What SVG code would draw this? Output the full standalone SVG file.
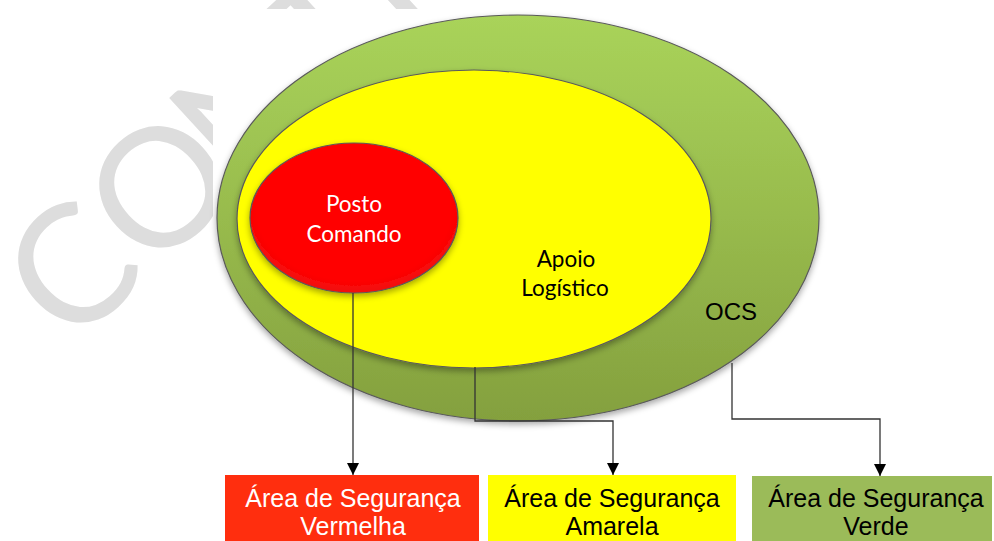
<svg xmlns="http://www.w3.org/2000/svg" width="994" height="541" viewBox="0 0 994 541">
  <defs>
    <linearGradient id="gGreen" x1="0" y1="0" x2="0" y2="1">
      <stop offset="0" stop-color="#a9d35a"/>
      <stop offset="0.5" stop-color="#98bb4d"/>
      <stop offset="1" stop-color="#84a03e"/>
    </linearGradient>
    <radialGradient id="gRed" cx="0.5" cy="0.45" r="0.55">
      <stop offset="0.85" stop-color="#ff0000"/>
      <stop offset="1" stop-color="#f01010"/>
    </radialGradient>
    <filter id="shadow" x="-10%" y="-10%" width="120%" height="125%">
      <feDropShadow dx="0" dy="3" stdDeviation="3" flood-color="#000" flood-opacity="0.35"/>
    </filter>
    <marker id="arrow" viewBox="0 0 12 12" refX="12" refY="6" markerWidth="12" markerHeight="12" markerUnits="userSpaceOnUse" orient="auto">
      <path d="M0,0 L12,6 L0,12 Z" fill="#000"/>
    </marker>
  </defs>
  <style>
    .wm { font-family: Lato, "Liberation Sans", sans-serif; font-weight: 400; font-size: 165px; fill: #dddddd; }
    .ell { stroke: #5a5a5a; stroke-width: 1.2; filter: url(#shadow); }
    .cal { font-family: Lato, "Open Sans", sans-serif; font-size: 22.5px; text-anchor: middle; }
    .ari { font-family: "Liberation Sans", Arial, sans-serif; font-size: 25px; text-anchor: middle; }
    .conn { fill: none; stroke: #333; stroke-width: 1.3; }
  </style>

  <!-- watermark -->
  <g id="watermark">
    <text class="wm" transform="translate(70,268) rotate(-42.5)" y="60" text-anchor="middle"><tspan x="0">C</tspan><tspan x="121">O</tspan><tspan x="236">N</tspan><tspan x="348">T</tspan><tspan x="452">R</tspan><tspan x="566">O</tspan><tspan x="676">L</tspan><tspan x="776">A</tspan><tspan x="886">D</tspan><tspan x="996">A</tspan></text>
  </g>
  <rect x="213" y="9" width="781" height="532" fill="#ffffff"/>

  <g id="ocs">
    <ellipse class="ell" cx="518" cy="218" rx="301" ry="203" fill="url(#gGreen)"/>
    <text class="ari" x="731" y="320" fill="#000" style="font-size:24px">OCS</text>
  </g>
  <g id="apoio">
    <ellipse class="ell" cx="474" cy="219" rx="237" ry="149" fill="#ffff00"/>
    <text class="cal" x="566" y="267" fill="#000">Apoio</text>
    <text class="cal" x="565" y="296" fill="#000">Logístico</text>
  </g>
  <g id="posto">
    <ellipse class="ell" cx="354" cy="218" rx="104" ry="75" fill="url(#gRed)"/>
    <text class="cal" x="354" y="212" fill="#ffffff">Posto</text>
    <text class="cal" x="354" y="242" fill="#ffffff">Comando</text>
  </g>

  <g id="connectors">
    <path class="conn" d="M353,293 V475" marker-end="url(#arrow)"/>
    <path class="conn" d="M475,367 V421 H613 V475" marker-end="url(#arrow)"/>
    <path class="conn" d="M732,363 V419 H880 V476" marker-end="url(#arrow)"/>
  </g>

  <g id="box-vermelha">
    <rect x="225" y="475" width="254" height="70" fill="#ff2e0e"/>
    <text class="ari" x="353" y="507" fill="#ffffff">Área de Segurança</text>
    <text class="ari" x="353" y="535" fill="#ffffff">Vermelha</text>
  </g>
  <g id="box-amarela">
    <rect x="488" y="475" width="248" height="70" fill="#ffff00"/>
    <text class="ari" x="612" y="507" fill="#000">Área de Segurança</text>
    <text class="ari" x="612" y="535" fill="#000">Amarela</text>
  </g>
  <g id="box-verde">
    <rect x="752" y="476" width="240" height="70" fill="#9bbb59"/>
    <text class="ari" x="876" y="507" fill="#000">Área de Segurança</text>
    <text class="ari" x="876" y="535" fill="#000">Verde</text>
  </g>
</svg>
